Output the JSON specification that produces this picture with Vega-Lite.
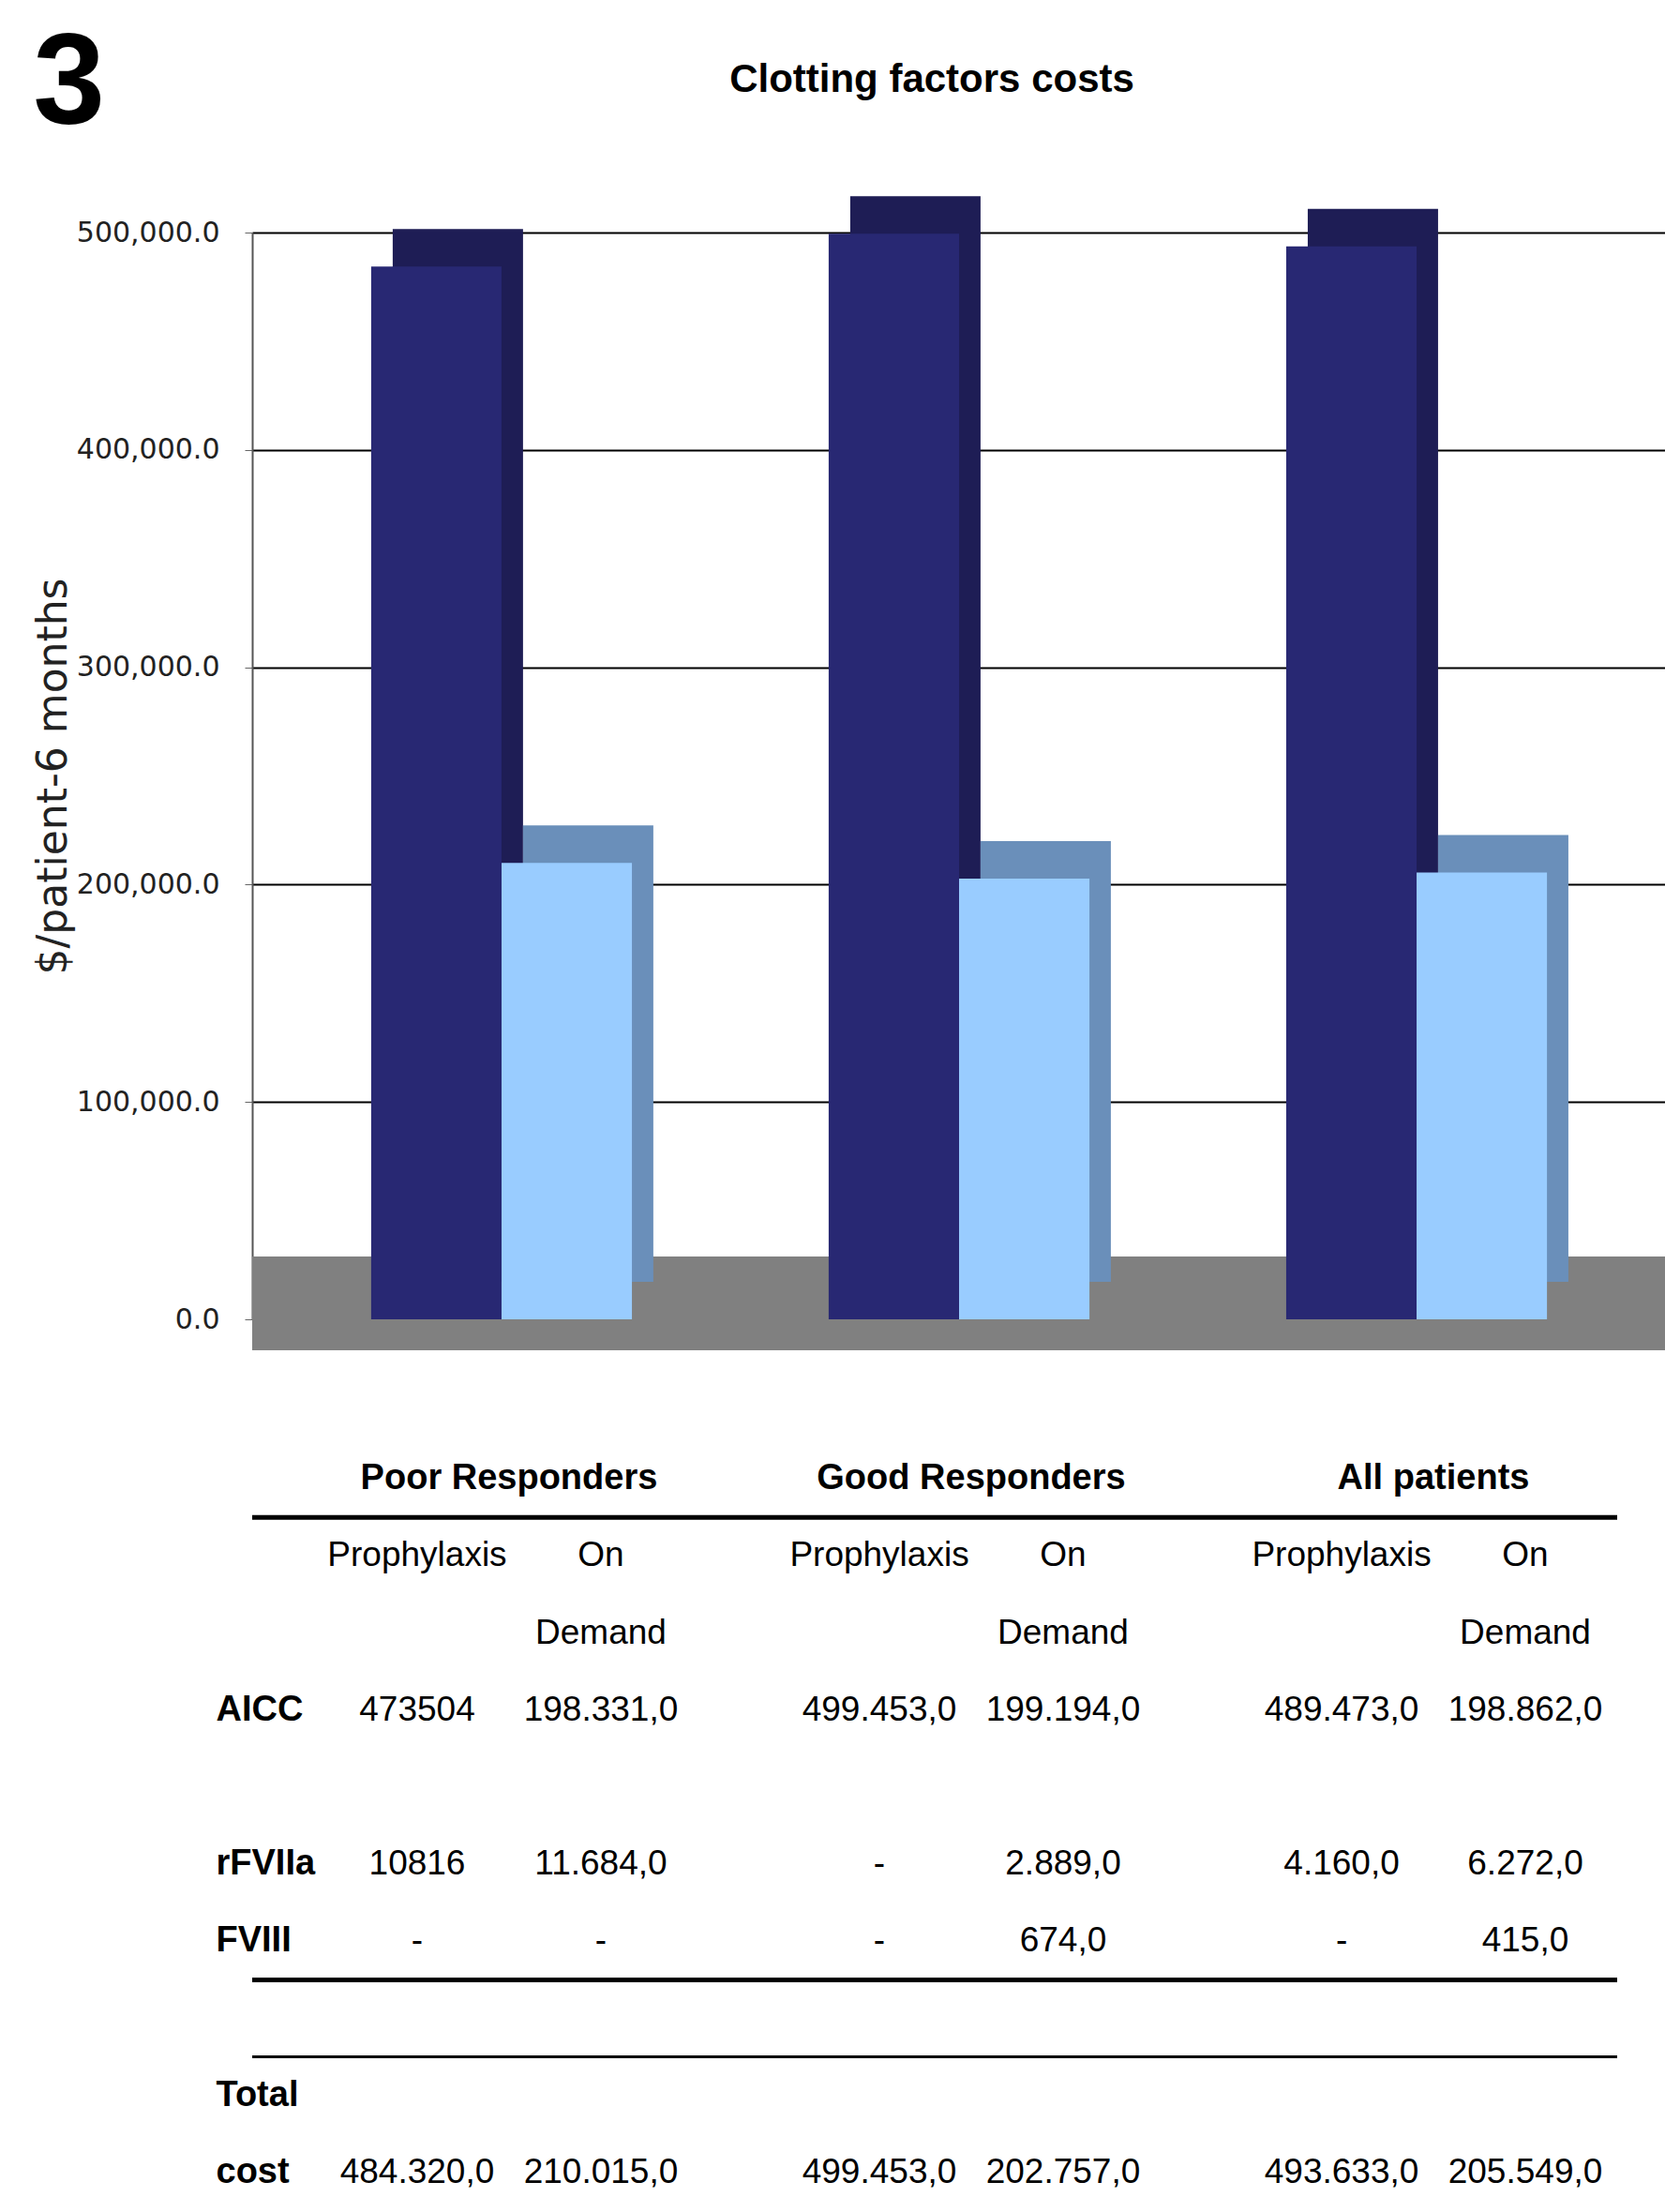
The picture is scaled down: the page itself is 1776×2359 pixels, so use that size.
{
  "$schema": "https://vega.github.io/schema/vega-lite/v6.json",
  "background": "white",
  "padding": {"left": 35, "top": 21, "right": 0, "bottom": 0},
  "title": {"text": "3", "anchor": "start", "frame": "bounds", "fontSize": 138, "font": "Liberation Sans", "fontWeight": "bold", "color": "black", "offset": 0, "dy": 96},
  "bounds": "flush",
  "spacing": 129,
  "config": {"view": {"stroke": null}},
  "datasets": {
    "bars": [
      {"group": "Poor Responders", "regimen": "Prophylaxis", "cost": 484320},
      {"group": "Poor Responders", "regimen": "On Demand", "cost": 210015},
      {"group": "Good Responders", "regimen": "Prophylaxis", "cost": 499453},
      {"group": "Good Responders", "regimen": "On Demand", "cost": 202757},
      {"group": "All patients", "regimen": "Prophylaxis", "cost": 493633},
      {"group": "All patients", "regimen": "On Demand", "cost": 205549}
    ],
    "table": [
      {"kind": "group", "group": "Poor Responders", "row": "hdr", "label": "Poor Responders"},
      {"kind": "group", "group": "Good Responders", "row": "hdr", "label": "Good Responders"},
      {"kind": "group", "group": "All patients", "row": "hdr", "label": "All patients"},
      {"kind": "cell", "group": "Poor Responders", "regimen": "Prophylaxis", "row": "sub1", "label": "Prophylaxis"},
      {"kind": "cell", "group": "Poor Responders", "regimen": "On Demand", "row": "sub1", "label": "On"},
      {"kind": "cell", "group": "Poor Responders", "regimen": "On Demand", "row": "sub2", "label": "Demand"},
      {"kind": "cell", "group": "Good Responders", "regimen": "Prophylaxis", "row": "sub1", "label": "Prophylaxis"},
      {"kind": "cell", "group": "Good Responders", "regimen": "On Demand", "row": "sub1", "label": "On"},
      {"kind": "cell", "group": "Good Responders", "regimen": "On Demand", "row": "sub2", "label": "Demand"},
      {"kind": "cell", "group": "All patients", "regimen": "Prophylaxis", "row": "sub1", "label": "Prophylaxis"},
      {"kind": "cell", "group": "All patients", "regimen": "On Demand", "row": "sub1", "label": "On"},
      {"kind": "cell", "group": "All patients", "regimen": "On Demand", "row": "sub2", "label": "Demand"},
      {"kind": "cell", "group": "Poor Responders", "regimen": "Prophylaxis", "row": "AICC", "label": "473504"},
      {"kind": "cell", "group": "Poor Responders", "regimen": "On Demand", "row": "AICC", "label": "198.331,0"},
      {"kind": "cell", "group": "Good Responders", "regimen": "Prophylaxis", "row": "AICC", "label": "499.453,0"},
      {"kind": "cell", "group": "Good Responders", "regimen": "On Demand", "row": "AICC", "label": "199.194,0"},
      {"kind": "cell", "group": "All patients", "regimen": "Prophylaxis", "row": "AICC", "label": "489.473,0"},
      {"kind": "cell", "group": "All patients", "regimen": "On Demand", "row": "AICC", "label": "198.862,0"},
      {"kind": "cell", "group": "Poor Responders", "regimen": "Prophylaxis", "row": "rFVIIa", "label": "10816"},
      {"kind": "cell", "group": "Poor Responders", "regimen": "On Demand", "row": "rFVIIa", "label": "11.684,0"},
      {"kind": "cell", "group": "Good Responders", "regimen": "Prophylaxis", "row": "rFVIIa", "label": "-"},
      {"kind": "cell", "group": "Good Responders", "regimen": "On Demand", "row": "rFVIIa", "label": "2.889,0"},
      {"kind": "cell", "group": "All patients", "regimen": "Prophylaxis", "row": "rFVIIa", "label": "4.160,0"},
      {"kind": "cell", "group": "All patients", "regimen": "On Demand", "row": "rFVIIa", "label": "6.272,0"},
      {"kind": "cell", "group": "Poor Responders", "regimen": "Prophylaxis", "row": "FVIII", "label": "-"},
      {"kind": "cell", "group": "Poor Responders", "regimen": "On Demand", "row": "FVIII", "label": "-"},
      {"kind": "cell", "group": "Good Responders", "regimen": "Prophylaxis", "row": "FVIII", "label": "-"},
      {"kind": "cell", "group": "Good Responders", "regimen": "On Demand", "row": "FVIII", "label": "674,0"},
      {"kind": "cell", "group": "All patients", "regimen": "Prophylaxis", "row": "FVIII", "label": "-"},
      {"kind": "cell", "group": "All patients", "regimen": "On Demand", "row": "FVIII", "label": "415,0"},
      {"kind": "cell", "group": "Poor Responders", "regimen": "Prophylaxis", "row": "cost", "label": "484.320,0"},
      {"kind": "cell", "group": "Poor Responders", "regimen": "On Demand", "row": "cost", "label": "210.015,0"},
      {"kind": "cell", "group": "Good Responders", "regimen": "Prophylaxis", "row": "cost", "label": "499.453,0"},
      {"kind": "cell", "group": "Good Responders", "regimen": "On Demand", "row": "cost", "label": "202.757,0"},
      {"kind": "cell", "group": "All patients", "regimen": "Prophylaxis", "row": "cost", "label": "493.633,0"},
      {"kind": "cell", "group": "All patients", "regimen": "On Demand", "row": "cost", "label": "205.549,0"},
      {"kind": "line", "row": "sub1"},
      {"kind": "line", "row": "gap2"},
      {"kind": "line", "row": "Total"}
    ]
  },
  "vconcat": [
    {
      "width": 1508,
      "height": 1159,
      "title": {"text": "Clotting factors costs", "font": "Liberation Sans", "fontSize": 42, "fontWeight": "bold", "color": "black", "anchor": "middle", "offset": 102, "dx": -29},
      "data": {"name": "bars"},
      "resolve": {"scale": {"color": "independent", "xOffset": "independent"}},
      "layer": [
        {
          "mark": {"type": "rule", "color": "#808080", "strokeWidth": 100, "yOffset": -17},
          "encoding": {"y": {"datum": 0, "type": "quantitative", "scale": {"domain": [0, 500000], "nice": false},
            "axis": {"values": [0, 100000, 200000, 300000, 400000, 500000], "format": ",.1f", "title": "$/patient-6 months",
              "titleFont": "DejaVu Sans", "titleFontSize": 44, "titleFontWeight": "normal", "titleColor": "#222", "titlePadding": 2,
              "labelFont": "DejaVu Sans", "labelFontSize": 30, "labelColor": "#222", "labelPadding": 27, "tickSize": 8, "tickColor": "#666",
              "domainColor": "#555", "domainWidth": 2, "grid": true, "gridColor": "black", "gridWidth": 2}}}
        },
        {
          "mark": {"type": "bar", "yOffset": -40},
          "encoding": {
            "x": {"field": "group", "type": "nominal", "sort": ["Poor Responders", "Good Responders", "All patients"], "scale": {"paddingInner": 0.43, "paddingOuter": 0.26}, "axis": null},
            "xOffset": {"field": "regimen", "type": "nominal", "scale": {"domain": ["Prophylaxis", "On Demand"], "range": [23, 301], "paddingInner": 0, "paddingOuter": 0}},
            "y": {"field": "cost", "type": "quantitative"},
            "color": {"field": "regimen", "type": "nominal", "scale": {"domain": ["Prophylaxis", "On Demand"], "range": ["#1e1d55", "#6a8fba"]}, "legend": null}
          }
        },
        {
          "mark": {"type": "bar"},
          "encoding": {
            "x": {"field": "group", "type": "nominal", "sort": ["Poor Responders", "Good Responders", "All patients"], "scale": {"paddingInner": 0.43, "paddingOuter": 0.26}, "axis": null},
            "xOffset": {"field": "regimen", "type": "nominal", "scale": {"domain": ["Prophylaxis", "On Demand"], "paddingInner": 0, "paddingOuter": 0}},
            "y": {"field": "cost", "type": "quantitative"},
            "color": {"field": "regimen", "type": "nominal", "scale": {"domain": ["Prophylaxis", "On Demand"], "range": ["#282873", "#99ccff"]}, "legend": null}
          }
        }
      ]
    },
    {
      "width": 1456,
      "height": 822,
      "data": {"name": "table"},
      "encoding": {
        "y": {"field": "row", "type": "nominal",
          "scale": {"type": "band", "domain": ["hdr", "sub1", "sub2", "AICC", "gap1", "rFVIIa", "FVIII", "gap2", "Total", "cost"], "paddingInner": 0, "paddingOuter": 0},
          "axis": {"labelExpr": "indexof(['AICC','rFVIIa','FVIII','Total','cost'], datum.value) >= 0 ? datum.value : ''",
            "labelAlign": "left", "labelPadding": 39, "ticks": false, "tickSize": 0, "domain": false, "grid": false, "title": null,
            "labelFont": "Liberation Sans", "labelFontSize": 38, "labelFontWeight": "bold", "labelColor": "black", "labelBaseline": "middle"}}
      },
      "layer": [
        {
          "transform": [{"filter": "datum.kind === 'line'"}],
          "mark": {"type": "rule", "color": "black"},
          "encoding": {
            "y": {"field": "row", "type": "nominal", "bandPosition": 0},
            "strokeWidth": {"condition": {"test": "datum.row === 'Total'", "value": 3}, "value": 5}
          }
        },
        {
          "transform": [{"filter": "datum.kind === 'group'"}],
          "mark": {"type": "text", "font": "Liberation Sans", "fontSize": 38, "fontWeight": "bold", "color": "black", "baseline": "middle"},
          "encoding": {
            "x": {"field": "group", "type": "nominal", "sort": ["Poor Responders", "Good Responders", "All patients"], "scale": {"type": "band", "paddingInner": 0.205, "paddingOuter": 0.0791, "align": 1}, "axis": null},
            "text": {"field": "label"}
          }
        },
        {
          "transform": [{"filter": "datum.kind === 'cell'"}],
          "mark": {"type": "text", "font": "Liberation Sans", "fontSize": 37, "color": "black", "baseline": "middle"},
          "encoding": {
            "x": {"field": "group", "type": "nominal", "sort": ["Poor Responders", "Good Responders", "All patients"], "axis": null},
            "xOffset": {"field": "regimen", "type": "nominal", "scale": {"type": "point", "domain": ["Prophylaxis", "On Demand"], "padding": 0.5}},
            "text": {"field": "label"}
          }
        }
      ]
    }
  ]
}
